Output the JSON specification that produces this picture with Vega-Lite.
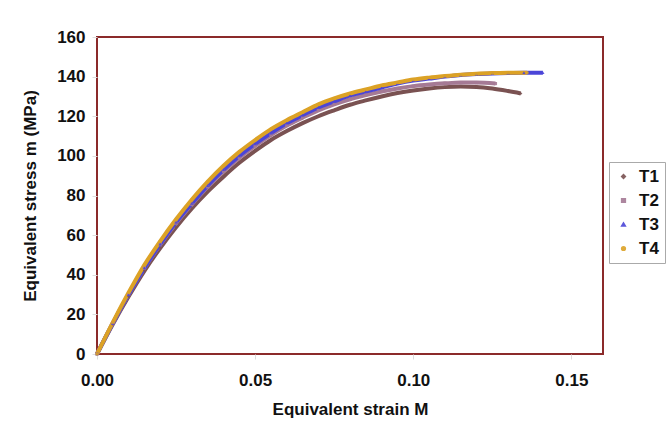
{
  "$schema": "https://vega.github.io/schema/vega-lite/v6.json",
  "autosize": {"type": "none"},
  "padding": {"left": 97, "top": 37, "right": 65, "bottom": 78},
  "width": 506,
  "height": 317,
  "background": "white",
  "config": {
    "font": "Liberation Sans",
    "view": {"stroke": "#8b2a2a", "strokeWidth": 2}
  },
  "data": {
    "values": [
      {"s": "T1", "x": 0, "y": 0}, {"s": "T1", "x": 0.005, "y": 15}, {"s": "T1", "x": 0.01, "y": 29}, {"s": "T1", "x": 0.015, "y": 42}, {"s": "T1", "x": 0.02, "y": 53.5}, {"s": "T1", "x": 0.025, "y": 64}, {"s": "T1", "x": 0.03, "y": 73.5}, {"s": "T1", "x": 0.035, "y": 82}, {"s": "T1", "x": 0.04, "y": 89.5}, {"s": "T1", "x": 0.045, "y": 96.5}, {"s": "T1", "x": 0.05, "y": 102.5}, {"s": "T1", "x": 0.055, "y": 108}, {"s": "T1", "x": 0.06, "y": 112.5}, {"s": "T1", "x": 0.065, "y": 116.5}, {"s": "T1", "x": 0.07, "y": 120}, {"s": "T1", "x": 0.075, "y": 123}, {"s": "T1", "x": 0.08, "y": 125.8}, {"s": "T1", "x": 0.085, "y": 128}, {"s": "T1", "x": 0.09, "y": 130}, {"s": "T1", "x": 0.095, "y": 131.7}, {"s": "T1", "x": 0.1, "y": 133}, {"s": "T1", "x": 0.105, "y": 134}, {"s": "T1", "x": 0.11, "y": 134.7}, {"s": "T1", "x": 0.115, "y": 135}, {"s": "T1", "x": 0.12, "y": 134.8}, {"s": "T1", "x": 0.125, "y": 134}, {"s": "T1", "x": 0.13, "y": 132.7}, {"s": "T1", "x": 0.134, "y": 131.5},
      {"s": "T2", "x": 0, "y": 0}, {"s": "T2", "x": 0.005, "y": 15.5}, {"s": "T2", "x": 0.01, "y": 30}, {"s": "T2", "x": 0.015, "y": 43.3}, {"s": "T2", "x": 0.02, "y": 55.2}, {"s": "T2", "x": 0.025, "y": 66}, {"s": "T2", "x": 0.03, "y": 75.5}, {"s": "T2", "x": 0.035, "y": 84.3}, {"s": "T2", "x": 0.04, "y": 92.2}, {"s": "T2", "x": 0.045, "y": 99}, {"s": "T2", "x": 0.05, "y": 105}, {"s": "T2", "x": 0.055, "y": 110.5}, {"s": "T2", "x": 0.06, "y": 115.3}, {"s": "T2", "x": 0.065, "y": 119.3}, {"s": "T2", "x": 0.07, "y": 123}, {"s": "T2", "x": 0.075, "y": 126}, {"s": "T2", "x": 0.08, "y": 128.6}, {"s": "T2", "x": 0.085, "y": 130.7}, {"s": "T2", "x": 0.09, "y": 132.5}, {"s": "T2", "x": 0.095, "y": 134}, {"s": "T2", "x": 0.1, "y": 135.2}, {"s": "T2", "x": 0.105, "y": 136}, {"s": "T2", "x": 0.11, "y": 136.6}, {"s": "T2", "x": 0.115, "y": 137}, {"s": "T2", "x": 0.12, "y": 137}, {"s": "T2", "x": 0.126, "y": 136.5},
      {"s": "T3", "x": 0, "y": 0}, {"s": "T3", "x": 0.005, "y": 15.5}, {"s": "T3", "x": 0.01, "y": 30}, {"s": "T3", "x": 0.015, "y": 43.5}, {"s": "T3", "x": 0.02, "y": 55.5}, {"s": "T3", "x": 0.025, "y": 66.5}, {"s": "T3", "x": 0.03, "y": 76}, {"s": "T3", "x": 0.035, "y": 85}, {"s": "T3", "x": 0.04, "y": 93}, {"s": "T3", "x": 0.045, "y": 100}, {"s": "T3", "x": 0.05, "y": 106}, {"s": "T3", "x": 0.055, "y": 111.5}, {"s": "T3", "x": 0.06, "y": 116.5}, {"s": "T3", "x": 0.065, "y": 120.5}, {"s": "T3", "x": 0.07, "y": 124.5}, {"s": "T3", "x": 0.075, "y": 127.5}, {"s": "T3", "x": 0.08, "y": 130.5}, {"s": "T3", "x": 0.085, "y": 132.5}, {"s": "T3", "x": 0.09, "y": 134.5}, {"s": "T3", "x": 0.095, "y": 136.5}, {"s": "T3", "x": 0.1, "y": 138}, {"s": "T3", "x": 0.105, "y": 139}, {"s": "T3", "x": 0.11, "y": 140}, {"s": "T3", "x": 0.115, "y": 140.8}, {"s": "T3", "x": 0.12, "y": 141.3}, {"s": "T3", "x": 0.125, "y": 141.6}, {"s": "T3", "x": 0.13, "y": 141.8}, {"s": "T3", "x": 0.135, "y": 142}, {"s": "T3", "x": 0.141, "y": 142},
      {"s": "T4", "x": 0, "y": 0}, {"s": "T4", "x": 0.005, "y": 16}, {"s": "T4", "x": 0.01, "y": 31}, {"s": "T4", "x": 0.015, "y": 45}, {"s": "T4", "x": 0.02, "y": 57}, {"s": "T4", "x": 0.025, "y": 68}, {"s": "T4", "x": 0.03, "y": 78}, {"s": "T4", "x": 0.035, "y": 87}, {"s": "T4", "x": 0.04, "y": 95}, {"s": "T4", "x": 0.045, "y": 102}, {"s": "T4", "x": 0.05, "y": 108}, {"s": "T4", "x": 0.055, "y": 113.5}, {"s": "T4", "x": 0.06, "y": 118}, {"s": "T4", "x": 0.065, "y": 122}, {"s": "T4", "x": 0.07, "y": 126}, {"s": "T4", "x": 0.075, "y": 129}, {"s": "T4", "x": 0.08, "y": 131.5}, {"s": "T4", "x": 0.085, "y": 133.5}, {"s": "T4", "x": 0.09, "y": 135.5}, {"s": "T4", "x": 0.095, "y": 137}, {"s": "T4", "x": 0.1, "y": 138.5}, {"s": "T4", "x": 0.105, "y": 139.5}, {"s": "T4", "x": 0.11, "y": 140.3}, {"s": "T4", "x": 0.115, "y": 141}, {"s": "T4", "x": 0.12, "y": 141.5}, {"s": "T4", "x": 0.125, "y": 141.8}, {"s": "T4", "x": 0.13, "y": 142}, {"s": "T4", "x": 0.136, "y": 142}
    ]
  },
  "encoding": {
    "x": {
      "field": "x", "type": "quantitative",
      "scale": {"domain": [0, 0.16], "nice": false},
      "axis": {
        "title": "Equivalent strain M", "values": [0, 0.05, 0.1, 0.15], "format": ".2f",
        "domain": false, "grid": false, "tickColor": "#dddddd", "tickSize": 5, "labelFlush": false,
        "labelFontSize": 17, "labelFontWeight": "bold", "labelColor": "#111111", "labelPadding": 13,
        "titleFontSize": 17, "titleFontWeight": "bold", "titleColor": "#111111", "titlePadding": 13
      }
    },
    "y": {
      "field": "y", "type": "quantitative",
      "scale": {"domain": [0, 160], "nice": false},
      "axis": {
        "title": "Equivalent stress m (MPa)", "values": [0, 20, 40, 60, 80, 100, 120, 140, 160],
        "domain": false, "grid": false, "tickColor": "#dddddd", "tickSize": 5, "labelFlush": false,
        "labelFontSize": 17, "labelFontWeight": "bold", "labelColor": "#111111", "labelPadding": 7,
        "titleFontSize": 17, "titleFontWeight": "bold", "titleColor": "#111111", "titlePadding": 17
      }
    },
    "color": {
      "field": "s", "type": "nominal",
      "scale": {"domain": ["T1", "T2", "T3", "T4"], "range": ["#7a5252", "#a57a95", "#4b45d8", "#dca226"]},
      "legend": {
        "title": null, "orient": "none", "legendX": 512, "legendY": 125,
        "labelFontSize": 17, "labelFontWeight": "bold", "labelColor": "#111111",
        "symbolSize": 14, "rowPadding": 6, "labelOffset": 7,
        "strokeColor": "#aaaaaa", "padding": 6, "fillColor": "white"
      }
    }
  },
  "layer": [
    {
      "mark": {"type": "line", "strokeWidth": 4, "interpolate": "monotone"}
    },
    {
      "mark": {"type": "point", "filled": true, "size": 10, "opacity": 0.9},
      "encoding": {
        "shape": {
          "field": "s", "type": "nominal",
          "scale": {"domain": ["T1", "T2", "T3", "T4"], "range": ["diamond", "square", "triangle-up", "circle"]},
          "legend": {
            "title": null, "orient": "none", "legendX": 512, "legendY": 125,
            "labelFontSize": 17, "labelFontWeight": "bold", "labelColor": "#111111",
            "symbolSize": 14, "rowPadding": 6, "labelOffset": 7,
            "strokeColor": "#aaaaaa", "padding": 6, "fillColor": "white"
          }
        }
      }
    }
  ]
}
